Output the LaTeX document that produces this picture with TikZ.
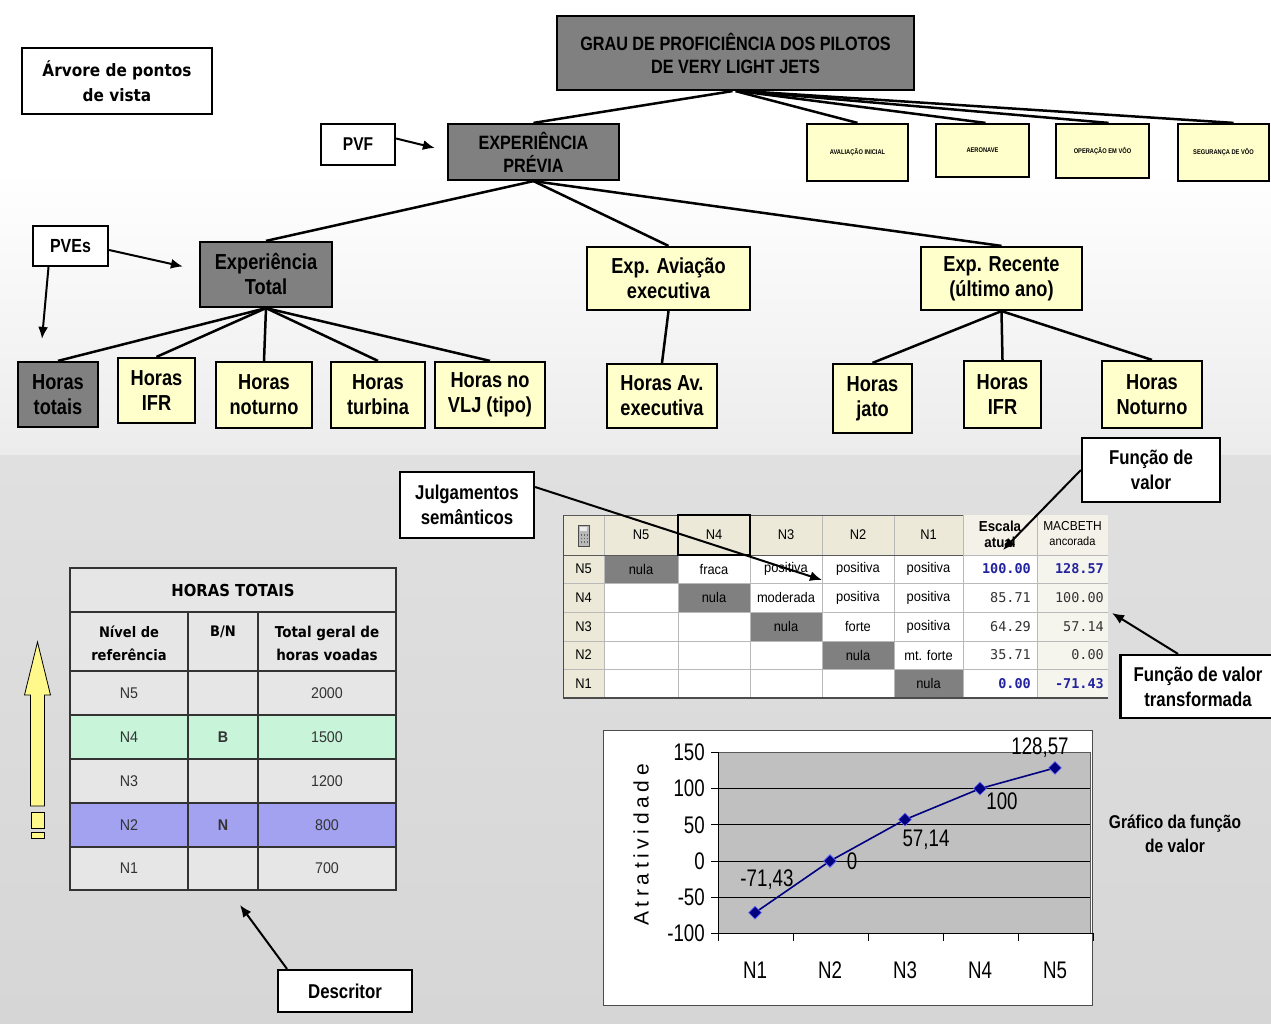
\documentclass[tikz,border=0pt]{standalone}
\usepackage{fontspec}
\setmainfont{Liberation Sans}
\newfontfamily\nar[FakeStretch=0.84]{Liberation Sans}
\newfontfamily\chartf[FakeStretch=0.78]{Liberation Sans}
\newfontfamily\tah[FakeStretch=0.9]{DejaVu Sans}
\newfontfamily\cellf[FakeStretch=0.92]{Liberation Sans}
\newfontfamily\monof{DejaVu Sans Mono}
\newfontfamily\spacedf[LetterSpace=22]{Liberation Sans}
\usetikzlibrary{arrows.meta,calc,shapes.geometric}
\definecolor{boxgray}{HTML}{808080}
\definecolor{boxyel}{HTML}{FFFFCC}
\definecolor{beige}{HTML}{ECE9D8}
\definecolor{mint}{HTML}{C8F5DA}
\definecolor{peri}{HTML}{A2A2F0}
\definecolor{cellgray}{HTML}{E6E6E6}
\definecolor{valblue}{HTML}{2323A0}
\definecolor{navy}{HTML}{000080}
\definecolor{plotgray}{HTML}{C0C0C0}
\definecolor{bgA}{HTML}{ECECEC}
\definecolor{bgB}{HTML}{E0E0E0}
\definecolor{bgC}{HTML}{D6D6D6}
\tikzset{
 bx/.style={draw=black, line width=2.2pt, align=center, inner sep=0pt,
   font=\nar\bfseries\fontsize{21.7}{25}\selectfont},
 gbox/.style={bx, fill=boxgray},
 ybox/.style={bx, fill=boxyel},
 wbox/.style={bx, fill=white},
 sbox/.style={bx, fill=boxyel, font=\nar\bfseries\fontsize{6.8}{8}\selectfont},
 cbox/.style={wbox, font=\nar\bfseries\fontsize{20}{25}\selectfont},
 conn/.style={line width=2.5pt, black},
 arr/.style={line width=2pt, black, -{Latex[length=12pt,width=10pt]}},
 mcell/.style={font=\cellf\fontsize{14}{16}\selectfont, inner sep=0pt},
 lcell/.style={font=\cellf\fontsize{15.5}{17}\selectfont, text=black!80, inner sep=0pt},
 lhead/.style={font=\tah\bfseries\fontsize{14.5}{23}\selectfont, align=center, inner sep=0pt},
 mval/.style={font=\monof\fontsize{13.5}{16}\selectfont, anchor=east, inner sep=0pt, text=black!80},
 bval/.style={font=\monof\bfseries\fontsize{13.5}{16}\selectfont, anchor=east, inner sep=0pt, text=valblue},
 ctext/.style={font=\chartf\fontsize{24}{26}\selectfont, inner sep=0pt},
 dmark/.style={diamond, fill=navy, draw=blue!60, line width=0.6pt, minimum size=13pt, inner sep=0pt},
}
\begin{document}
\begin{tikzpicture}[x=1pt,y=-1pt]
\useasboundingbox (0,0) rectangle (1271,1024);
% background
\fill[white] (0,0) rectangle (1271,170);
\shade[top color=white, bottom color=bgA] (0,170) rectangle (1271,455);
\shade[top color=bgB, bottom color=bgC] (0,455) rectangle (1271,1024);

% ---------- MACBETH table ----------
\fill[white] (563,515) rectangle (1108,698);
\fill[beige] (563,515) rectangle (963,555);
\fill[beige] (563,555) rectangle (604,698);
\fill[beige!60] (963,515) rectangle (1108,555);
\fill[beige!45] (1037,555) rectangle (1108,698);
\fill[boxgray] (604,555) rectangle (678,583);
\fill[boxgray] (678,583) rectangle (750,612);
\fill[boxgray] (750,612) rectangle (822,641);
\fill[boxgray] (822,641) rectangle (894,669);
\fill[boxgray] (894,669) rectangle (963,698);
\foreach \xx in {604,678,750,822,894,963,1037}
  \draw[gray!55, line width=0.9pt] (\xx,515) -- (\xx,698);
\foreach \yy in {555,583,612,641,669}
  \draw[gray!55, line width=0.9pt] (563,\yy) -- (1108,\yy);
\draw[gray!70!black, line width=1pt] (563,515) -- (963,515);
\draw[gray!70!black, line width=1pt] (563,555) -- (963,555);
\draw[black, line width=1.6pt] (678,515) rectangle (750,555);
\draw[black!70, line width=1.6pt] (563,698) -- (1108,698);
\draw[black!70, line width=1pt] (563,515) -- (563,698);
% calculator icon
\draw[fill=gray!55, draw=black!70, line width=0.8pt] (578,525) rectangle (589,546);
\fill[gray!15] (580,527) rectangle (587,531);
\foreach \cx in {580.5,583.5,586.5}
  \foreach \cy in {534,537.5,541}
    \fill[black!60] (\cx,\cy) rectangle ++(1.8,1.8);
% header texts
\foreach \t/\xx [count=\k] in {N5/641,N4/714,N3/786,N2/858,N1/928.5}
  \node[mcell] (mh\k) at (\xx,535) {\t};
\foreach \t/\yy [count=\k] in {N5/569,N4/597.5,N3/626.5,N2/655,N1/683.5}
  \node[mcell] (mr\k) at (583.5,\yy) {\t};
\foreach \yy/\xx/\t [count=\k] in {569/641/nula,569/714/fraca,569/786/positiva,569/858/positiva,569/928.5/positiva,
  597.5/714/nula,597.5/786/moderada,597.5/858/positiva,597.5/928.5/positiva,
  626.5/786/nula,626.5/858/forte,626.5/928.5/positiva,
  655/858/nula,655/928.5/mt. forte,
  683.5/928.5/nula}
  \node[mcell] (mc\k) at (\xx,\yy) {\t};
\node[font=\cellf\bfseries\fontsize{14.5}{16}\selectfont, align=center, inner sep=0pt] (esc) at (1000,534) {Escala\\atual};
\node[font=\cellf\fontsize{13}{15}\selectfont, align=center, inner sep=0pt] (mac) at (1072.5,534) {MACBETH\\{\fontsize{12}{15}\selectfont ancorada}};
\node[bval] (v1a) at (1031,569) {100.00};
\node[bval] (v1b) at (1104,569) {128.57};
\node[mval] (v2a) at (1031,597.5) {85.71};
\node[mval] (v2b) at (1104,597.5) {100.00};
\node[mval] (v3a) at (1031,626.5) {64.29};
\node[mval] (v3b) at (1104,626.5) {57.14};
\node[mval] (v4a) at (1031,655) {35.71};
\node[mval] (v4b) at (1104,655) {0.00};
\node[bval] (v5a) at (1031,683.5) {0.00};
\node[bval] (v5b) at (1104,683.5) {-71.43};

% ---------- left table ----------
\fill[cellgray] (70,568) rectangle (396,890);
\fill[mint] (70,715) rectangle (396,759);
\fill[peri] (70,803) rectangle (396,847);
\foreach \yy in {612,671,715,759,803,847}
  \draw[black!80, line width=1.3pt] (70,\yy) -- (396,\yy);
\foreach \xx in {188,258}
  \draw[black!80, line width=1.3pt] (\xx,612) -- (\xx,890);
\draw[black!80, line width=1.3pt] (70,568) rectangle (396,890);
\node[font=\tah\bfseries\fontsize{16.5}{18}\selectfont, inner sep=0pt] (ltitle) at (233,590) {HORAS TOTAIS};
\node[lhead] (lh1) at (129,643.5) {Nível de\\referência};
\node[lhead] (lh2) at (223,632) {B/N};
\node[lhead, font=\tah\bfseries\fontsize{15}{23}\selectfont] (lh3) at (327,643.5) {Total geral de\\horas voadas};
\foreach \t/\v/\yy [count=\k] in {N5/2000/693,N4/1500/737,N3/1200/781,N2/800/825,N1/700/868.5}{
  \node[lcell] (ln\k) at (129,\yy) {\t};
  \node[lcell] (lv\k) at (327,\yy) {\v};
}
\node[lcell, font=\cellf\bfseries\fontsize{15.5}{17}\selectfont] (lb) at (223,737) {B};
\node[lcell, font=\cellf\bfseries\fontsize{15.5}{17}\selectfont] (lnn) at (223,825) {N};
% yellow arrow
\filldraw[fill=yellow!45, draw=black, line width=0.8pt] (37.5,642) -- (50.5,695) -- (44.5,695) -- (44.5,806) -- (30.5,806) -- (30.5,695) -- (24.5,695) -- cycle;
\filldraw[fill=yellow!45, draw=black, line width=0.8pt] (31,812) rectangle (44,828);
\filldraw[fill=yellow!45, draw=black, line width=0.8pt] (31,832) rectangle (44,838);

% ---------- chart ----------
\draw[black!70, fill=white, line width=1pt] (603,730) rectangle (1092,1005);
\fill[plotgray] (718,752.4) rectangle (1090,933.4);
\draw[gray!70!black, line width=0.8pt] (718,752.4) -- (1090,752.4) -- (1090,933.4);
\foreach \yy in {788.6,824.8,861,897.2}
  \draw[black, line width=1pt] (718,\yy) -- (1090,\yy);
\draw[black, line width=1pt] (718,752.4) -- (718,933.4) -- (1093,933.4);
\foreach \yy/\t [count=\k] in {752.4/150,788.6/100,824.8/50,861/0,897.2/-50,933.4/-100}{
  \draw[black, line width=1pt] (711,\yy) -- (718,\yy);
  \node[ctext, anchor=east] (yt\k) at (705,\yy) {\t};
}
\foreach \xx in {718,793,868,943,1018,1093}
  \draw[black, line width=1pt] (\xx,933.4) -- (\xx,941);
\foreach \t/\xx [count=\k] in {N1/755,N2/830,N3/905,N4/980,N5/1055}
  \node[ctext] (xt\k) at (\xx,970) {\t};
\coordinate (p1) at (755,912.7);
\coordinate (p2) at (830,861);
\coordinate (p3) at (905,819.6);
\coordinate (p4) at (980,788.6);
\coordinate (p5) at (1055,767.9);
\draw[navy, line width=1.6pt] (p1) -- (p2) -- (p3) -- (p4) -- (p5);
\foreach \k in {1,...,5}
  \node[dmark] (m\k) at (p\k) {};
\node[ctext] (d1) at (767,880) {-71,43};
\node[ctext] (d2) at (852,861) {0};
\node[ctext] (d3) at (926,840) {57,14};
\node[ctext] (d4) at (1002,801) {100};
\node[ctext] (d5) at (1040,748) {128,57};
\node[font=\spacedf\fontsize{21}{24}\selectfont, rotate=90, inner sep=0pt] (atr) at (641,845) {Atratividade};
\node[font=\nar\bfseries\fontsize{18.5}{24}\selectfont, align=center, inner sep=0pt] (graf) at (1175,834) {Gráfico da função\\de valor};

% ---------- tree nodes ----------
\node[wbox, font=\tah\bfseries\fontsize{17}{25}\selectfont, minimum width=190pt, minimum height=66pt] (arv) at (117,81) {Árvore de pontos\\de vista};
\node[gbox, font=\nar\bfseries\fontsize{19.3}{23}\selectfont, minimum width=357pt, minimum height=74pt] (grau) at (735.5,53) {GRAU DE PROFICIÊNCIA DOS PILOTOS\\DE VERY LIGHT JETS};
\node[wbox, font=\nar\bfseries\fontsize{18.5}{22}\selectfont, minimum width=74pt, minimum height=41pt] (pvf) at (358,144.5) {PVF};
\node[gbox, font=\nar\bfseries\fontsize{19.3}{23}\selectfont, minimum width=171pt, minimum height=56pt] (exp) at (533.5,152) {EXPERIÊNCIA\\PRÉVIA};
\node[sbox, minimum width=101pt, minimum height=57pt] (b1) at (857.5,152.5) {AVALIAÇÃO INICIAL};
\node[sbox, minimum width=93pt, minimum height=53pt] (b2) at (982.5,150.5) {AERONAVE};
\node[sbox, minimum width=93pt, minimum height=54pt] (b3) at (1102.5,151) {OPERAÇÃO EM VÔO};
\node[sbox, minimum width=91pt, minimum height=57pt] (b4) at (1223.5,152.5) {SEGURANÇA DE VÔO};
\node[wbox, font=\nar\bfseries\fontsize{19}{22}\selectfont, minimum width=75pt, minimum height=40pt] (pves) at (70.5,246) {PVEs};
\node[gbox, minimum width=132pt, minimum height=65pt] (etot) at (266,274.5) {Experiência\\Total};
\node[ybox, minimum width=163pt, minimum height=63pt] (eav) at (668.5,278.5) {Exp. Aviação\\executiva};
\node[ybox, minimum width=161pt, minimum height=63pt] (erec) at (1001.5,278.5) {Exp. Recente\\(último ano)};
\node[gbox, minimum width=80pt, minimum height=65pt] (ht) at (58,394.5) {Horas\\totais};
\node[ybox, minimum width=77pt, minimum height=65pt] (hifr) at (156.5,390.5) {Horas\\IFR};
\node[ybox, minimum width=96pt, minimum height=66pt] (hnot) at (264,395) {Horas\\noturno};
\node[ybox, minimum width=94pt, minimum height=66pt] (htur) at (378,395) {Horas\\turbina};
\node[ybox, minimum width=110pt, minimum height=66pt] (hvlj) at (490,395) {Horas no\\VLJ (tipo)};
\node[ybox, minimum width=110pt, minimum height=64pt] (hav) at (662,396) {Horas Av.\\executiva};
\node[ybox, minimum width=79pt, minimum height=69pt] (hjato) at (872.5,398.5) {Horas\\jato};
\node[ybox, minimum width=77pt, minimum height=67pt] (hifrb) at (1002.5,394.5) {Horas\\IFR};
\node[ybox, minimum width=100pt, minimum height=67pt] (hnoc) at (1152,394.5) {Horas\\Noturno};
\node[cbox, minimum width=138pt, minimum height=64pt] (fv) at (1151,470) {Função de\\valor};
\node[cbox, minimum width=134pt, minimum height=66pt] (julg) at (467,505) {Julgamentos\\semânticos};
\node[cbox, minimum width=155pt, minimum height=63pt] (ftr) at (1198,686.5) {Função de valor\\transformada};
\node[cbox, minimum width=134pt, minimum height=42pt] (desc) at (345,991) {Descritor};

% ---------- connectors ----------
\draw[conn] ($(grau.south)+(-3,0)$) -- (exp.north);
\draw[conn] (grau.south) -- (b1.north);
\draw[conn] ($(grau.south)+(3,0)$) -- ($(b2.north)+(3,0)$);
\draw[conn] ($(grau.south)+(6,0)$) -- ($(b3.north)+(6,0)$);
\draw[conn] ($(grau.south)+(9,0)$) -- ($(b4.north)+(10,0)$);
\draw[conn] (exp.south) -- (etot.north);
\draw[conn] (exp.south) -- (eav.north);
\draw[conn] (exp.south) -- (erec.north);
\foreach \n in {ht,hifr,hnot,htur,hvlj}
  \draw[conn] (etot.south) -- (\n.north);
\draw[conn] (eav.south) -- (hav.north);
\foreach \n in {hjato,hifrb,hnoc}
  \draw[conn] (erec.south) -- (\n.north);

% ---------- callout arrows ----------
\coordinate (atualpt) at (1003,550);
\coordinate (semtgt) at (822,580);
\coordinate (ftgt) at (1112,613);
\coordinate (dtgt) at (240,905);
\draw[arr] ($(pvf.east)+(0,-6)$) -- ($(exp.west)+(-12,-4)$);
\draw[arr] ($(pves.east)+(0,4)$) -- ($(etot.west)+(-16,-8)$);
\draw[arr] ($(pves.south)+(-22,0)$) -- ($(ht.north)+(-16,-22)$);
\draw[arr] (fv.west) -- (atualpt);
\draw[arr] ($(julg.east)+(0,-18)$) -- (semtgt);
\draw[arr] ($(ftr.north)+(-20,0)$) -- (ftgt);
\draw[arr] ($(desc.north)+(-58,0)$) -- (dtgt);
\end{tikzpicture}
\end{document}
